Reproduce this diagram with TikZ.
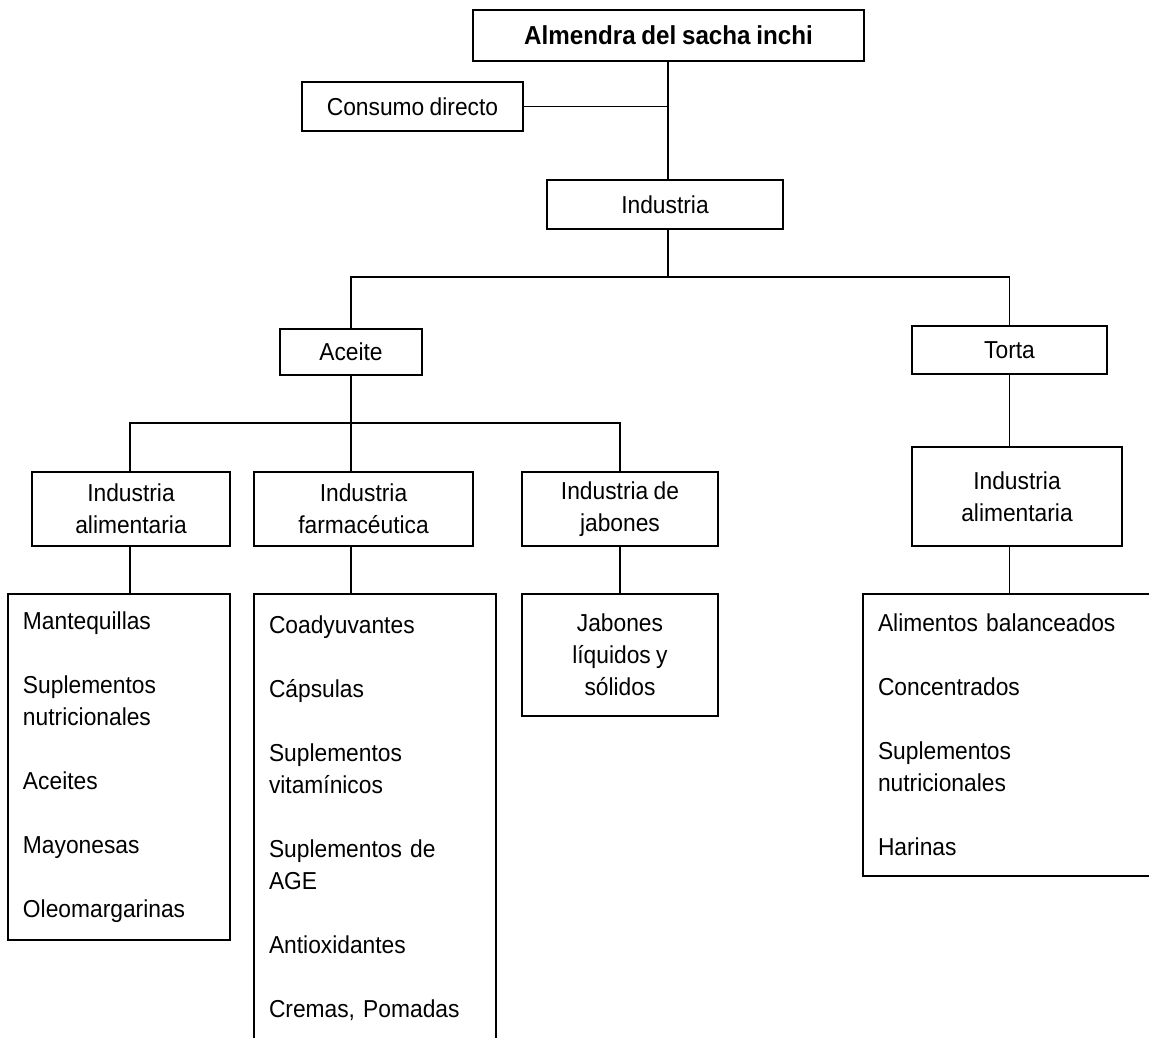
\documentclass[tikz,border=0pt]{standalone}
\usepackage{fontspec}
\setmainfont[FakeStretch=0.93,WordSpace=0.85]{Liberation Sans}
\begin{document}
\begin{tikzpicture}[x=1pt,y=-1pt,line width=1.5pt,
  box/.style={draw,inner sep=0pt,align=center,font=\fontsize{24.5}{32}\selectfont},
  listbox/.style={draw,inner xsep=15pt,inner ysep=0pt,align=left,font=\fontsize{24.5}{32}\selectfont}]
\useasboundingbox (0,0) rectangle (1149,1037);
% top part
\node[box,minimum width=391,minimum height=51,font=\fontsize{26}{32}\bfseries] (almendra) at (668.5,35.5) {Almendra del sacha inchi};
\node[box,minimum width=221,minimum height=49] (consumo) at (412.5,106.5) {Consumo directo};
\node[box,minimum width=236,minimum height=49] (industria) at (665,204.5) {Industria};
\coordinate (trunk) at (668,204.5);
\draw (almendra.south -| trunk) -- (industria.north -| trunk);
\draw (consumo.east) -- (consumo.east -| trunk);
% aceite y torta
\node[box,minimum width=142,minimum height=46] (aceite) at (351,352) {Aceite};
\node[box,minimum width=195,minimum height=48] (torta) at (1009.5,350) {Torta};
\coordinate (bus1) at (668,277);
\draw (industria.south -| trunk) -- (bus1);
\draw (aceite.north) |- (bus1) -| (torta.north);
% industrias
\node[box,minimum width=198,minimum height=74] (alimA) at (131,509) {Industria\\alimentaria};
\node[box,minimum width=219,minimum height=74] (farma) at (363.5,509) {Industria\\farmacéutica};
\node[box,minimum width=196,minimum height=74] (jabon) at (620,509) {Industria de\\jabones};
\node[box,minimum width=210,minimum height=99] (alimT) at (1017,496.5) {Industria\\alimentaria};
\coordinate (bus2) at (351,423);
\draw (aceite.south) -- (farma.north -| aceite);
\draw (alimA.north -| 130,0) |- (bus2) -| (jabon.north);
\draw (torta.south) -- (alimT.north -| torta);
% productos
\node[listbox,text width=192,minimum height=346] (listA) at (119,767)
  {Mantequillas\\[32pt]Suplementos\\nutricionales\\[32pt]Aceites\\[32pt]Mayonesas\\[32pt]Oleomargarinas};
\node[listbox,text width=212,minimum height=448] (listF) at (375,818)
  {Coadyuvantes\\[32pt]Cápsulas\\[32pt]Suplementos\\vitamínicos\\[32pt]Suplementos de\\AGE\\[32pt]Antioxidantes\\[32pt]Cremas, Pomadas};
\node[box,minimum width=196,minimum height=122] (listJ) at (620,655) {Jabones\\líquidos y\\sólidos};
\node[listbox,text width=267,minimum height=282] (listT) at (1011.5,735)
  {Alimentos balanceados\\[32pt]Concentrados\\[32pt]Suplementos\\nutricionales\\[32pt]Harinas};
\draw (alimA.south -| 130,0) -- (listA.north -| 130,0);
\draw (farma.south -| aceite) -- (listF.north -| aceite);
\draw (jabon.south) -- (listJ.north);
\draw (alimT.south -| torta) -- (listT.north -| torta);
\end{tikzpicture}
\end{document}
